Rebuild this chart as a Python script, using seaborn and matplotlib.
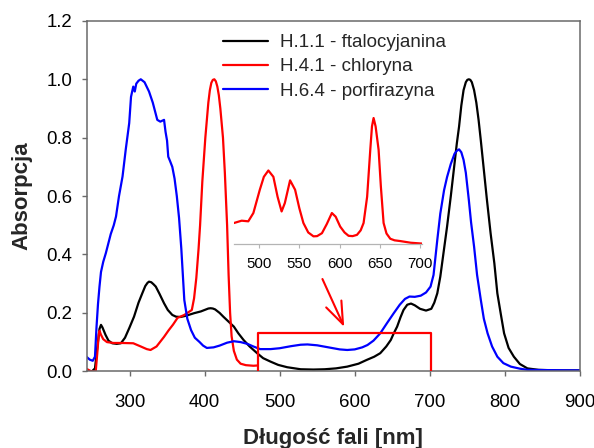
import matplotlib
matplotlib.use("Agg")
import matplotlib.pyplot as plt
import pandas as pd
import seaborn as sns

# --- Absorption spectra (wavelength in nm, normalised absorbance) ---
pc_label = "H.1.1 - ftalocyjanina"
pc_wl = [243, 250, 254, 257, 260, 262, 264, 268, 272, 277, 283, 288.5, 294, 300, 306,
         312, 317, 321, 324, 326, 329, 332, 335, 340, 346, 351, 357, 362, 368, 375, 386, 395,
         402, 405, 408, 411, 414, 420, 425, 432, 439, 445, 452, 460, 470, 478, 488, 498, 510,
         528, 545, 560, 575, 590, 605, 616, 626, 634, 642, 648, 652, 656.5, 661, 665,
         670, 675, 680, 687, 695, 702, 706, 710, 714, 718, 723, 728, 732, 736, 739,
         742, 745, 748, 750, 752, 754, 756, 759, 762, 765, 768, 772, 776, 781, 786, 790, 795,
         799, 805, 812, 820, 830, 845, 870, 900]
pc_abs = [0.0, 0.0, 0.01, 0.08, 0.145, 0.159, 0.15, 0.125, 0.105, 0.096, 0.094, 0.096, 0.115, 0.15, 0.187,
          0.235, 0.267, 0.292, 0.303, 0.307, 0.305, 0.298, 0.29, 0.265, 0.233, 0.21, 0.193, 0.187, 0.186, 0.19, 0.199, 0.205,
          0.212, 0.215, 0.216, 0.215, 0.212, 0.2, 0.187, 0.17, 0.153, 0.13, 0.107, 0.085, 0.062, 0.045, 0.033, 0.022, 0.014,
          0.007, 0.006, 0.007, 0.01, 0.016, 0.026, 0.039, 0.05, 0.062, 0.085, 0.107, 0.13, 0.153, 0.185, 0.21,
          0.228, 0.232, 0.226, 0.214, 0.208, 0.214, 0.235, 0.267, 0.324, 0.4, 0.495, 0.6, 0.69, 0.78, 0.838,
          0.91, 0.963, 0.99, 0.998, 1.0, 0.998, 0.99, 0.963, 0.92, 0.861, 0.79, 0.69, 0.59, 0.473, 0.37, 0.267, 0.19,
          0.13, 0.08, 0.05, 0.025, 0.01, 0.005, 0.003, 0.003]

chl_label = "H.4.1 - chloryna"
chl_wl = [243, 246, 249, 253, 255, 257, 259, 260, 262, 265, 270, 278.7, 290, 305, 315,
          323, 328, 336, 346, 352, 358, 364, 373, 383, 386, 389, 392, 394, 397, 401,
          405, 407, 409, 411, 413, 415, 417, 419, 421, 424.5, 427, 430, 432, 434, 436, 439, 443, 448, 455,
          465, 471]
chl_abs = [0.008, 0.004, 0.0, 0.0, 0.0, 0.06, 0.125, 0.139, 0.125, 0.11, 0.1, 0.097, 0.097, 0.096, 0.085,
           0.076, 0.073, 0.085, 0.118, 0.14, 0.16, 0.183, 0.193, 0.21, 0.25, 0.32, 0.42, 0.5, 0.65, 0.8,
           0.92, 0.962, 0.988, 0.998, 1.0, 0.993, 0.975, 0.945, 0.9, 0.8, 0.68, 0.5, 0.33, 0.2, 0.12, 0.07, 0.04, 0.026, 0.021,
           0.019, 0.02]

pz_label = "H.6.4 - porfirazyna"
pz_wl = [243, 247, 251, 254, 256, 258, 260, 262, 265, 268.5, 272, 275, 279, 282, 286,
         290.7, 295, 299.6, 302, 305, 307, 309, 312, 315, 320, 326, 331, 337, 341, 346,
         348, 350, 351.6, 354, 357, 360, 363, 366, 369, 373, 377, 382, 387, 393, 398,
         403, 412, 420, 430, 439, 448, 457, 465, 474, 488, 500, 515, 528, 537, 550,
         565, 580, 590, 600, 610, 617, 625, 634, 643, 652, 660, 667, 673, 680, 688,
         695, 701, 705, 710, 714, 719, 723, 728, 733, 736, 739, 742, 745, 748, 752,
         755, 759, 763, 768, 772, 777, 783, 790, 798, 808, 820, 830, 860, 900]
pz_abs = [0.049, 0.04, 0.036, 0.05, 0.15, 0.23, 0.29, 0.34, 0.375, 0.405, 0.44, 0.47, 0.5, 0.53, 0.6,
          0.667, 0.76, 0.85, 0.94, 0.975, 0.958, 0.985, 0.995, 1.0, 0.99, 0.958, 0.92, 0.861, 0.855, 0.861,
          0.82, 0.79, 0.735, 0.72, 0.7, 0.66, 0.6, 0.525, 0.42, 0.244, 0.18, 0.141, 0.115, 0.101, 0.088,
          0.08, 0.082, 0.088, 0.098, 0.103, 0.1, 0.094, 0.085, 0.076, 0.076, 0.079, 0.086, 0.091, 0.092, 0.089,
          0.082, 0.075, 0.073, 0.075, 0.082, 0.09, 0.105, 0.13, 0.165, 0.199, 0.228, 0.248, 0.256, 0.255, 0.259,
          0.27, 0.29, 0.33, 0.45, 0.54, 0.62, 0.665, 0.71, 0.745, 0.755, 0.76, 0.75, 0.724, 0.68, 0.587,
          0.51, 0.427, 0.33, 0.244, 0.18, 0.13, 0.085, 0.05, 0.028, 0.016, 0.009, 0.005, 0.004, 0.003]

# Chlorin Q-band region shown enlarged in the inset
chl_q_wl = [469, 478.5, 486.7, 493, 501, 506, 511.6, 517.8, 523, 528, 532, 538.5, 544.7, 550, 555,
            561, 567.5, 572, 578, 584, 590.3, 595, 600.6, 606, 611, 616, 621.4, 626, 629.6, 634,
            637.9, 640, 642, 644.5, 648.2, 651, 654.4, 658, 662.7, 668, 675, 688, 702]
chl_q_abs = [0.020, 0.0222, 0.0216, 0.0295, 0.0517, 0.064, 0.070, 0.064, 0.045, 0.031, 0.039, 0.0606, 0.0517, 0.034, 0.020,
             0.011, 0.0073, 0.0075, 0.0103, 0.019, 0.0295, 0.026, 0.0166, 0.011, 0.0078, 0.0075, 0.0087, 0.013, 0.020, 0.045,
             0.0898, 0.112, 0.12, 0.112, 0.0898, 0.055, 0.020, 0.010, 0.005, 0.0035, 0.0028, 0.0012, 0.0004]

zoom_wl = (471, 701)
zoom_top = 0.131
arrow_tail = (557, 0.316)
arrow_head = (586, 0.152)

x_ticks = [300, 400, 500, 600, 700, 800, 900]
y_ticks = [0.0, 0.2, 0.4, 0.6, 0.8, 1.0, 1.2]
inset_ticks = [500, 550, 600, 650, 700]

sns.set_theme(style="ticks")
plt.rcParams['font.family'] = ['Liberation Sans', 'DejaVu Sans']

fig = plt.figure(figsize=(5.94, 4.48), dpi=100)
ax = fig.add_axes([0.146, 0.1712, 0.8303, 0.7822])

series = [
    (pc_label, pc_wl, pc_abs, "black"),
    (chl_label, chl_wl, chl_abs, "#ff0000"),
    (pz_label, pz_wl, pz_abs, "#0000ff"),
]
for name, wl, ab, color in series:
    df = pd.DataFrame({"wl": wl, "A": ab})
    sns.lineplot(data=df, x="wl", y="A", ax=ax, color=color, lw=1.6,
                 label=name, estimator=None, sort=False)

# frame marking the enlarged region
ax.plot([zoom_wl[0], zoom_wl[0], zoom_wl[1], zoom_wl[1]],
        [0, zoom_top, zoom_top, 0], color="#ff0000", lw=1.6, zorder=3)
ax.annotate("", xy=arrow_head, xytext=arrow_tail,
            arrowprops=dict(arrowstyle="->,head_length=0.8,head_width=0.3",
                            color="#ff0000", lw=1.5, mutation_scale=20,
                            shrinkA=0, shrinkB=0))

ax.set_xlim(243, 900)
ax.set_ylim(0, 1.2)
ax.set_xticks(x_ticks)
ax.set_yticks(y_ticks)
ax.set_yticklabels([f"{v:.1f}" for v in y_ticks])
for sp in ax.spines.values():
    sp.set_visible(True)
    sp.set_color("#6a6a6a")
    sp.set_linewidth(1.1)
ax.tick_params(axis="both", direction="out", length=3.6, width=1.0,
               color="#6a6a6a", labelsize=13.4, labelcolor="black")
ax.tick_params(axis="y", pad=7)
ax.tick_params(axis="x", pad=13)
ax.set_xlabel("Długość fali [nm]", fontsize=16, fontweight="bold", labelpad=12)
ax.set_ylabel("Absorpcja", fontsize=16, fontweight="bold", labelpad=10)

ax.legend(loc="upper left", bbox_to_anchor=(223 / 594, 1 - 34 / 448),
          bbox_transform=fig.transFigure, frameon=False, fontsize=13.5,
          handlelength=2.4, handletextpad=0.64, labelspacing=0.38,
          borderpad=0, borderaxespad=0)

# inset with the chlorin Q bands
axin = fig.add_axes([234 / 594, 204 / 448, 188 / 594, 136.5 / 448])
axin.patch.set_alpha(0)
sns.lineplot(data=pd.DataFrame({"wl": chl_q_wl, "A": chl_q_abs}), x="wl", y="A",
             ax=axin, color="#ff0000", lw=1.6, estimator=None, sort=False)
axin.set_xlim(469, 702)
axin.set_ylim(0, 0.13)
axin.set_xticks(inset_ticks)
axin.set_yticks([])
axin.set_xlabel("")
axin.set_ylabel("")
for side in ("left", "top", "right"):
    axin.spines[side].set_visible(False)
axin.spines["bottom"].set_color("#b4b4b4")
axin.spines["bottom"].set_linewidth(0.9)
axin.tick_params(axis="x", direction="out", length=3, width=0.8, color="#b4b4b4",
                 labelsize=10.8, labelcolor="black", pad=6)

fig.savefig("out.png", dpi=100)
